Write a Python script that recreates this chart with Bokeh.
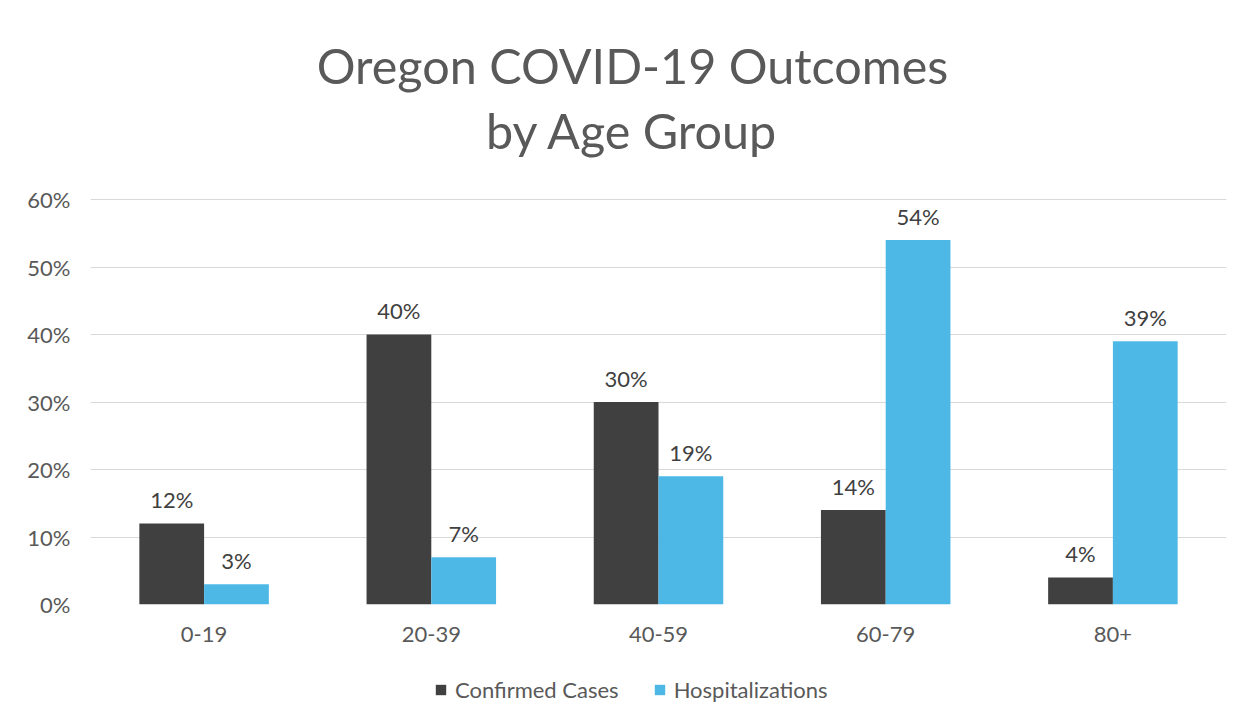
from bokeh.plotting import figure
from bokeh.layouts import column
from bokeh.models import (ColumnDataSource, FixedTicker, PrintfTickFormatter,
                          Legend, LegendItem, Label)
from bokeh.transform import dodge
from bokeh.core.properties import value
from bokeh.embed import file_html
from bokeh.resources import INLINE

# ---- data ----
age_groups = ["0-19", "20-39", "40-59", "60-79", "80+"]
confirmed_cases = [12, 40, 30, 14, 4]
hospitalizations = [3, 7, 19, 54, 39]
y_ticks = [0, 10, 20, 30, 40, 50, 60]
series_names = ["Confirmed Cases", "Hospitalizations"]
title_lines = ["Oregon COVID-19 Outcomes", "by Age Group"]

# ---- style ----
FONT = "Lato"
C_DARK = "#404040"
C_BLUE = "#4DB8E6"
C_TEXT = "#595959"
C_GRID = "#D9D9D9"
SMALL = "22px"
W = 1249

src = ColumnDataSource(dict(
    age=age_groups,
    cases=confirmed_cases,
    hosp=hospitalizations,
    cases_lbl=[f"{v}%" for v in confirmed_cases],
    hosp_lbl=[f"{v}%" for v in hospitalizations],
))


def blank(height):
    f = figure(width=W, height=height, x_range=age_groups, y_range=(0, 1),
               output_backend="svg", toolbar_location=None,
               min_border=0, min_border_left=0, min_border_right=0,
               min_border_top=0, min_border_bottom=0)
    f.axis.visible = False
    f.grid.visible = False
    f.outline_line_color = None
    f.background_fill_color = "white"
    f.border_fill_color = "white"
    return f


# ---- header (title) ----
header = blank(179)
for t, base in zip(title_lines, (115, 50)):
    header.add_layout(Label(x=542, y=base, x_units="screen", y_units="screen",
                            text=t, text_align="center", text_baseline="alphabetic",
                            text_font=FONT, text_font_size="48.5px", text_color=C_TEXT))

# ---- main chart ----
p = figure(x_range=age_groups, y_range=(0, 60.15), width=W, height=481,
           output_backend="svg", toolbar_location=None,
           min_border_left=90, min_border_right=23,
           min_border_top=19, min_border_bottom=56)
p.outline_line_color = None
p.background_fill_color = "white"
p.border_fill_color = "white"

bw = 0.285
p.vbar(x=dodge("age", -bw / 2, range=p.x_range), top="cases", width=bw,
       source=src, fill_color=C_DARK, line_color=None)
p.vbar(x=dodge("age", bw / 2, range=p.x_range), top="hosp", width=bw,
       source=src, fill_color=C_BLUE, line_color=None)

for col, lbl, off in (("cases", "cases_lbl", -bw / 2), ("hosp", "hosp_lbl", bw / 2)):
    p.text(x=dodge("age", off, range=p.x_range), y=col, text=lbl, source=src,
           text_align="center", text_baseline="middle", y_offset=-24,
           text_font=value(FONT), text_font_size=SMALL, text_color=C_DARK)

p.yaxis.ticker = FixedTicker(ticks=y_ticks)
p.yaxis.formatter = PrintfTickFormatter(format="%d%%")
for ax, so in ((p.yaxis, 20), (p.xaxis, 22)):
    ax.axis_line_color = None
    ax.major_tick_line_color = None
    ax.minor_tick_line_color = None
    ax.major_tick_out = 0
    ax.major_tick_in = 0
    ax.major_label_standoff = so
    ax.major_label_text_font = FONT
    ax.major_label_text_font_size = SMALL
    ax.major_label_text_color = C_TEXT

p.xgrid.grid_line_color = None
p.ygrid.grid_line_color = C_GRID
p.ygrid.grid_line_width = 1

# ---- footer (legend) ----
footer = blank(62)
k1 = footer.vbar(x="age", top="cases", width=0.3, source=src,
                 fill_color=C_DARK, line_color=None, visible=False)
k2 = footer.vbar(x="age", top="hosp", width=0.3, source=src,
                 fill_color=C_BLUE, line_color=None, visible=False)
legend = Legend(items=[LegendItem(label=series_names[0], renderers=[k1]),
                       LegendItem(label=series_names[1], renderers=[k2])],
                orientation="horizontal", location=(344, 19),
                border_line_color=None, background_fill_alpha=0,
                glyph_width=13, glyph_height=13, label_standoff=8, spacing=34,
                label_text_font=FONT, label_text_font_size=SMALL,
                label_text_color=C_TEXT, padding=0, margin=0)
footer.add_layout(legend)

layout = column(header, p, footer, spacing=0)
open("out.html", "w").write(file_html(layout, INLINE))
